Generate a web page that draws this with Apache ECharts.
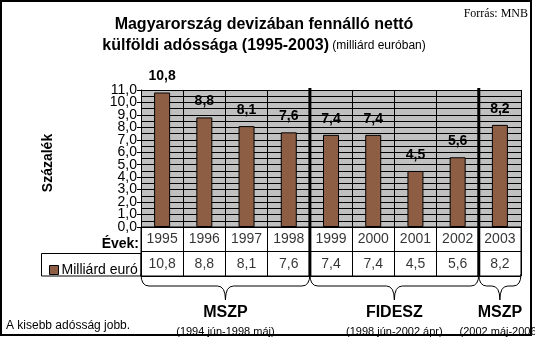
<!DOCTYPE html>
<html><head><meta charset="utf-8">
<script src="https://cdn.jsdelivr.net/npm/echarts@6/dist/echarts.min.js"></script>
<style>html,body{margin:0;padding:0;background:#fff}#c{width:535px;height:337px}</style>
</head><body><div id="c"></div>
<script>
var years = ['1995','1996','1997','1998','1999','2000','2001','2002','2003'];
var values = [10.8, 8.8, 8.1, 7.6, 7.4, 7.4, 4.5, 5.6, 8.2];
var seriesName = 'Milliárd euró';
var parties = ['MSZP', 'FIDESZ', 'MSZP'];
var periods = ['(1994 jún-1998 máj)', '(1998 jún-2002 ápr)', '(2002 máj-2006)'];
var partyRanges = [[0, 4], [4, 8], [8, 9]];
var yMin = 0, yMax = 11, yStep = 1;

function fmt(v){ return v.toFixed(1).replace('.', ','); }

var GL = 141, GT = 90, GW = 380, GH = 137;
var TT = GT + GH, TH = 49;
var FONT = 'Liberation Sans, Arial, sans-serif';
var chart = echarts.init(document.getElementById('c'), null, {renderer: 'canvas'});

function bx(i){ return GL + i * GW / years.length; }

var graphics = [
  {type:'rect', shape:{x:1, y:1, width:530, height:334}, style:{fill:'none', stroke:'#000', lineWidth:2}, z:100},
  {type:'text', style:{text:'Magyarország devizában fennálló nettó', x:264, y:25, align:'center', verticalAlign:'middle', font:'bold 16px ' + FONT, fill:'#000'}},
  {type:'text', style:{text:'{b|külföldi adóssága (1995-2003)} {n|(milliárd euróban)}', x:264, y:46, align:'center', verticalAlign:'middle', fill:'#000',
    rich:{b:{font:'bold 16px ' + FONT, fill:'#000'}, n:{font:'12px ' + FONT, fill:'#000'}}}},
  {type:'text', style:{text:'Forrás: MNB', x:528, y:14, align:'right', verticalAlign:'middle', font:'12px Liberation Serif, Times New Roman, serif', fill:'#000'}},
  {type:'text', rotation: Math.PI/2, x:48, y:163, style:{text:'Százalék', x:0, y:0, align:'center', verticalAlign:'middle', font:'bold 14px ' + FONT, fill:'#000'}},
  {type:'text', style:{text:'Évek:', x:139, y:244, align:'right', verticalAlign:'middle', font:'bold 14px ' + FONT, fill:'#000'}},
  {type:'rect', shape:{x:41.5, y:253.5, width:99.5, height:22.5}, style:{fill:'none', stroke:'#000', lineWidth:1}},
  {type:'text', style:{text:'A kisebb adósság jobb.', x:6, y:326, align:'left', verticalAlign:'middle', font:'12px ' + FONT, fill:'#000'}}
];
[4, 8].forEach(function(i){
  graphics.push({type:'line', shape:{x1:bx(i), y1:88, x2:bx(i), y2:277}, style:{stroke:'#000', lineWidth:3}, z:50});
});
var ls = {stroke:'#000', lineWidth:1, fill:'none'};
partyRanges.forEach(function(r, k){
  var x0 = bx(r[0]), x1 = bx(r[1]), m = (x0 + x1) / 2;
  var y0 = 274, yh = 286, yt = 300, rr = 8;
  graphics.push({type:'bezierCurve', shape:{x1:x0, y1:y0, cpx1:x0, cpy1:yh, x2:x0 + rr, y2:yh}, style:ls});
  graphics.push({type:'line', shape:{x1:x0 + rr, y1:yh, x2:m - rr, y2:yh}, style:ls});
  graphics.push({type:'bezierCurve', shape:{x1:m - rr, y1:yh, cpx1:m, cpy1:yh, x2:m, y2:yt}, style:ls});
  graphics.push({type:'bezierCurve', shape:{x1:m, y1:yt, cpx1:m, cpy1:yh, x2:m + rr, y2:yh}, style:ls});
  graphics.push({type:'line', shape:{x1:m + rr, y1:yh, x2:x1 - rr, y2:yh}, style:ls});
  graphics.push({type:'bezierCurve', shape:{x1:x1 - rr, y1:yh, cpx1:x1, cpy1:yh, x2:x1, y2:y0}, style:ls});
  graphics.push({type:'text', style:{text:parties[k], x:m, y:313, align:'center', verticalAlign:'middle', font:'bold 16px ' + FONT, fill:'#000'}});
  graphics.push({type:'text', style:{text:periods[k], x:m, y:332, align:'center', verticalAlign:'middle', font:'11px ' + FONT, fill:'#000'}});
});

var option = {
  animation: false,
  textStyle: {fontFamily: FONT},
  legend: {
    data: [seriesName], left: 44, top: 258, icon: 'rect', itemWidth: 9, itemHeight: 9, itemGap: 0,
    textStyle: {fontSize: 14, color: '#000', padding: [0,0,0,-2]},
    itemStyle: {borderColor: '#000', borderWidth: 1}
  },
  grid: [
    {left: GL, top: GT, width: GW, height: GH, show: true, backgroundColor: '#C0C0C0', borderWidth: 0, containLabel: false},
    {left: GL, top: TT, width: GW, height: TH, show: true, backgroundColor: '#fff', borderColor: '#000', borderWidth: 1, containLabel: false}
  ],
  xAxis: [
    {type: 'category', gridIndex: 0, data: years, boundaryGap: true,
     axisLine: {show: true, lineStyle: {color: '#000', width: 1}}, axisTick: {show: false}, axisLabel: {show: false},
     splitLine: {show: true, lineStyle: {color: '#000', width: 1}}},
    {type: 'category', gridIndex: 1, data: years, boundaryGap: true,
     axisLine: {show: false}, axisTick: {show: false}, axisLabel: {show: false},
     splitLine: {show: true, lineStyle: {color: '#000', width: 1}}}
  ],
  yAxis: [
    {type: 'value', gridIndex: 0, min: yMin, max: yMax, interval: yStep,
     axisLine: {show: true, lineStyle: {color: '#000', width: 1}},
     axisTick: {show: true, length: 4, lineStyle: {color: '#000'}},
     axisLabel: {formatter: fmt, color: '#000', fontSize: 14, margin: 4, showMinLabel: false, showMaxLabel: false},
     splitLine: {show: true, lineStyle: {color: '#000', width: 1}},
     minorTick: {show: true, splitNumber: 2, length: 0, lineStyle: {width: 0, color: 'rgba(0,0,0,0)'}},
     minorSplitLine: {show: true, lineStyle: {color: '#000', width: 1}}},
    {type: 'category', gridIndex: 1, data: ['v', 'y'], boundaryGap: true,
     axisLine: {show: false}, axisTick: {show: false}, axisLabel: {show: false},
     splitLine: {show: true, lineStyle: {color: '#000', width: 1}}},
    {type: 'value', gridIndex: 0, position: 'left', offset: 0, min: yMin, max: yMax, interval: yMax - yMin,
     axisLine: {show: false}, axisTick: {show: false}, splitLine: {show: false},
     axisLabel: {formatter: fmt, color: '#000', fontSize: 14, margin: 4, showMinLabel: true, showMaxLabel: true}}
  ],
  series: [
    {name: seriesName, type: 'bar', xAxisIndex: 0, yAxisIndex: 0, data: values, barWidth: 16,
     itemStyle: {color: '#8E5E44', borderColor: '#000', borderWidth: 1},
     label: {show: true, position: 'top', distance: 9, fontWeight: 'bold', fontSize: 14, color: '#000',
             formatter: function(p){ return fmt(p.value); }}},
    {name: 'years', type: 'scatter', xAxisIndex: 1, yAxisIndex: 1, symbolSize: 1,
     itemStyle: {color: 'rgba(0,0,0,0)'}, silent: true,
     data: years.map(function(y, i){ return [i, 1]; }),
     label: {show: true, position: 'inside', fontSize: 14, color: '#000',
             formatter: function(p){ return years[p.dataIndex]; }}},
    {name: 'vals', type: 'scatter', xAxisIndex: 1, yAxisIndex: 1, symbolSize: 1,
     itemStyle: {color: 'rgba(0,0,0,0)'}, silent: true,
     data: values.map(function(v, i){ return [i, 0]; }),
     label: {show: true, position: 'inside', fontSize: 14, color: '#000',
             formatter: function(p){ return fmt(values[p.dataIndex]); }}}
  ],
  graphic: graphics
};
chart.setOption(option);
</script></body></html>
